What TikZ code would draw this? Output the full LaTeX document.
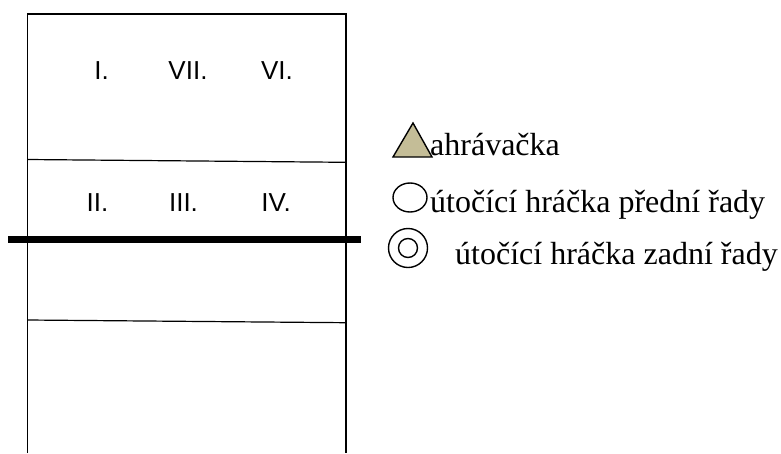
\documentclass[tikz,border=0pt]{standalone}
\usepackage{fontspec}
\setmainfont{Liberation Serif}
\newfontfamily\posfont{Liberation Sans}
\definecolor{setterTan}{HTML}{C4BD97}

\begin{document}
\begin{tikzpicture}
  [x=1pt,y=-1pt,
   courtL/.style={draw,line width=1.2pt},
   netL/.style={draw,line width=7.5pt},
   posL/.style={anchor=base,inner sep=0pt,font=\posfont\fontsize{26}{31}\selectfont},
   legT/.style={anchor=base west,inner sep=0pt,font=\fontsize{32}{38}\selectfont},
   symL/.style={draw,line width=1.4pt}
  ]
  \useasboundingbox (0,0) rectangle (781,453);

  % court
  \coordinate (tl) at (27.5,14);
  \coordinate (tr) at (346,14);
  \coordinate (bl) at (27.5,453);
  \coordinate (br) at (346,453);
  \coordinate (al) at (27.5,159.5);
  \coordinate (ar) at (346,162.3);
  \coordinate (dl) at (27.5,320);
  \coordinate (dr) at (346,322.7);
  \coordinate (nl) at (8,239.5);
  \coordinate (nr) at (361,239.5);

  \draw[courtL] (bl) -- (tl) -- (tr) -- (br);
  \draw[courtL] (al) -- (ar);
  \draw[courtL] (dl) -- (dr);
  \draw[netL] (nl) -- (nr);

  % positions
  \foreach \x/\y/\t/\n in {101.5/79/I./one,188/79/VII./seven,277/79/VI./six,
                           97.5/211/II./two,183.5/211/III./three,276/211/IV./four} {
     \node[posL] (\n) at (\x,\y) {\t};
  }

  % legend
  \draw[symL,fill=setterTan] (393,157) -- (413,123) -- (432,157) -- cycle;
  \draw[symL] (410,197.5) ellipse [x radius=17, y radius=14.5];
  \draw[symL] (408,248) circle [radius=19.5];
  \draw[symL] (408,248) circle [radius=9.5];

  \node[legT] (setter) at (430,155) {ahrávačka};
  \node[legT] (front) at (430,212) {útočící hráčka přední řady};
  \node[legT] (back) at (455,264) {útočící hráčka zadní řady};

\end{tikzpicture}
\end{document}
